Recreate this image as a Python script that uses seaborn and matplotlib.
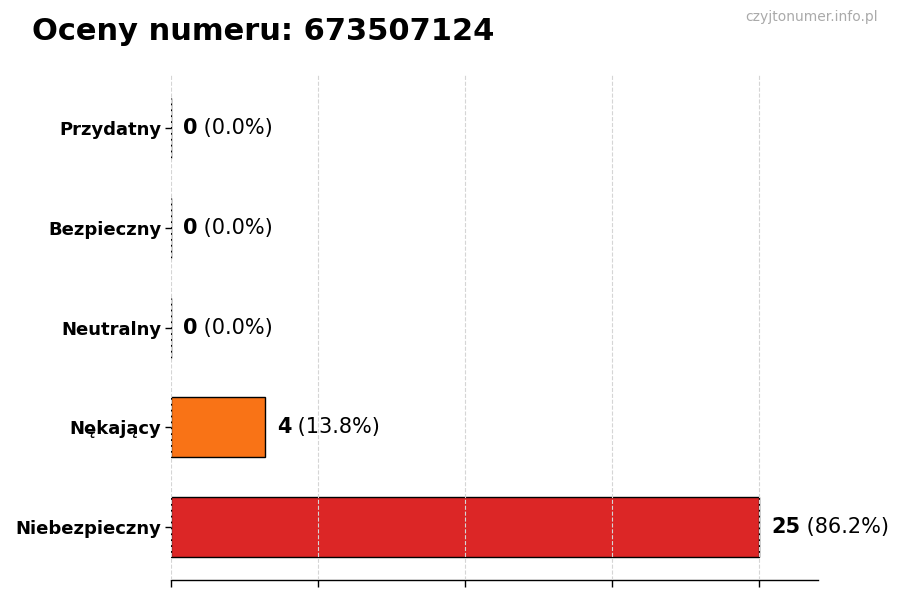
import numpy as np
import matplotlib
matplotlib.use("Agg")
import matplotlib.pyplot as plt
import seaborn as sns

# dane
kategorie = ["Przydatny", "Bezpieczny", "Neutralny", "Nękający", "Niebezpieczny"]
liczby = [0, 0, 0, 4, 25]
kolory = ["#22c55e", "#3b82f6", "#9ca3af", "#f97316", "#dc2626"]
numer = "673507124"

sns.set_theme(style="white")
plt.rcParams['font.family'] = ['DejaVu Sans']
plt.rcParams['text.color'] = 'black'
plt.rcParams['axes.labelcolor'] = 'black'
plt.rcParams['ytick.color'] = 'black'
plt.rcParams['xtick.color'] = 'black'

suma = sum(liczby)
max_val = max(liczby)

fig = plt.figure(figsize=(9, 6), dpi=100)
ax = fig.add_axes([0.19, 0.033, 0.719, 0.842])

sns.barplot(x=liczby, y=kategorie, hue=kategorie, palette=kolory, orient="h",
            width=0.6, saturation=1, edgecolor="black", linewidth=1,
            legend=False, ax=ax)

n = len(kategorie)
ax.set_ylim(n - 1 + 0.53, -0.53)
ax.set_xlim(0, max_val * 1.1)
ax.set_xticks(np.linspace(0, max_val, 5))
ax.set_xticklabels([])
ax.tick_params(axis="x", length=5, width=1, color="black", bottom=True)
ax.tick_params(axis="y", length=4, width=1, color="black", left=True, pad=3)
for lab in ax.get_yticklabels():
    lab.set_fontweight("bold")
    lab.set_fontsize(13)
ax.set_xlabel("")
ax.set_ylabel("")

ax.grid(axis="x", linestyle="--", color="#d5d5d5", linewidth=0.8)
ax.set_axisbelow(False)
for s in ["top", "right", "left"]:
    ax.spines[s].set_visible(False)
ax.spines["bottom"].set_color("black")
ax.spines["bottom"].set_linewidth(1)

# etykiety wartości
for i, v in enumerate(liczby):
    proc = v / suma * 100 if suma else 0
    t = ax.text(v + max_val * 0.02, i, f"{v}", fontsize=15, fontweight="bold",
                va="center", ha="left")
    ax.annotate(f" ({proc:.1f}%)", xy=(1, 0.5), xycoords=t, va="center", ha="left",
                fontsize=15)

fig.text(0.035, 0.948, f"Oceny numeru: {numer}", fontsize=22, fontweight="bold",
         va="center", ha="left")
fig.text(0.975, 0.972, "czyjtonumer.info.pl", fontsize=10, color="#aaaaaa",
         va="center", ha="right")

fig.savefig("out.png", dpi=100)
